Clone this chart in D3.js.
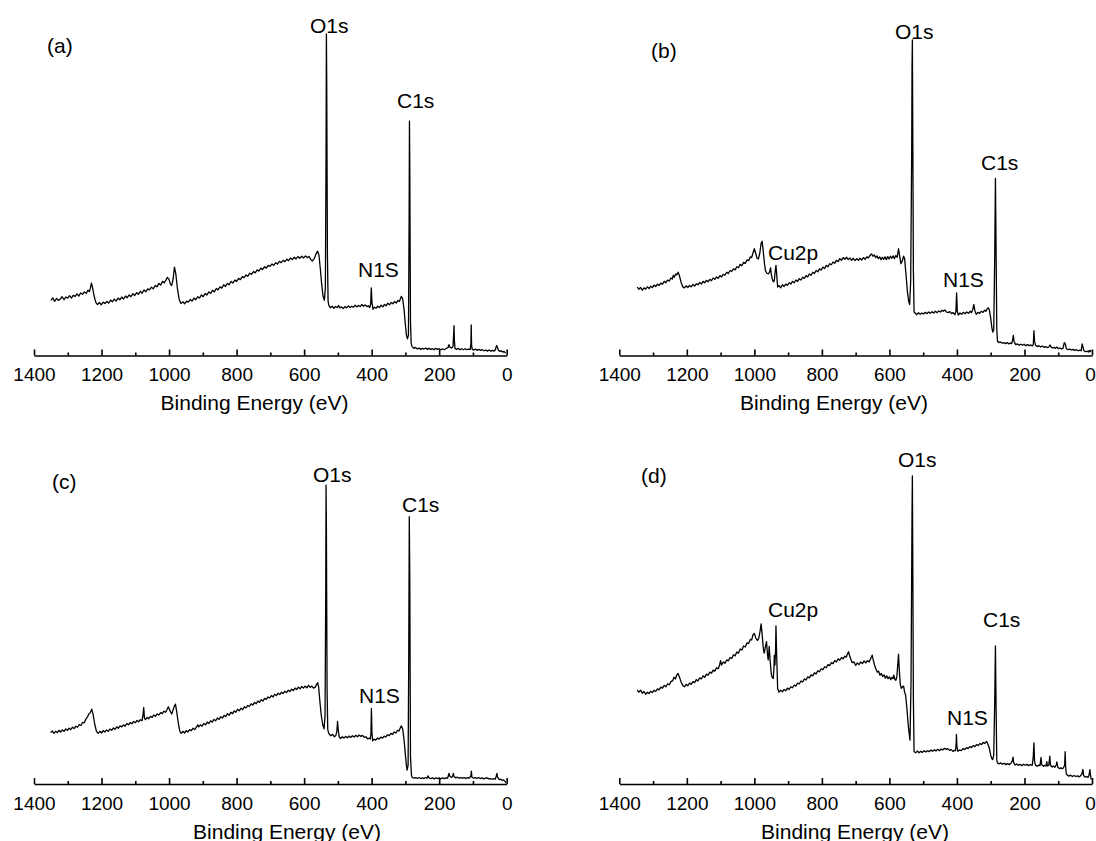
<!DOCTYPE html>
<html>
<head>
<meta charset="utf-8">
<script src="https://cdn.jsdelivr.net/npm/d3@7"></script>
<style>
body { margin: 0; background: #fff; }
svg text { font-family: "Liberation Sans", Arial, sans-serif; fill: #000; }
</style>
</head>
<body>
<script>
// XPS survey spectra, [binding energy (eV), intensity (a.u.)]
var spectrumA = [[1350,16.2],[1344,16.9],[1339,15.9],[1333,16.8],[1328,16.2],[1322,16.6],[1317,17.3],[1311,16.4],[1306,17.2],[1300,16.9],[1295,17.6],[1289,16.9],[1284,17.7],[1278,17.4],[1273,18.1],[1267,17.5],[1262,18.4],[1256,18.0],[1251,18.7],[1245,18.3],[1240,19.2],[1236,18.8],[1233,19.8],[1230,21.3],[1227,20.2],[1222,17.5],[1217,15.6],[1212,15.0],
	[1206,15.6],[1201,14.9],[1195,15.7],[1190,15.3],[1184,15.9],[1179,15.4],[1173,16.3],[1168,15.8],[1162,16.6],[1157,16.0],[1151,16.9],[1146,16.4],[1140,17.2],[1135,16.6],[1129,17.5],[1124,17.0],[1118,17.8],[1113,17.3],[1107,18.2],[1102,17.6],[1096,18.5],[1091,18.0],[1085,18.9],[1080,18.3],[1074,19.3],[1069,18.7],[1063,19.6],[1058,19.3],[1052,20.1],[1047,19.6],[1041,20.6],[1036,20.2],[1030,21.2],[1025,20.7],[1019,21.8],[1014,21.4],[1008,22.4],[1005,23.0],[1000,22.4],[996,21.0],[992,20.6],[988,22.5],[984,26.0],[980,24.0],[975,19.5],[970,16.5],[965,15.3],
	[959,15.8],[954,15.2],[948,16.0],[943,15.7],[937,16.5],[932,16.0],[926,16.9],[921,16.4],[915,17.3],[910,16.9],[904,17.8],[899,17.3],[893,18.2],[888,17.8],[882,18.7],[877,18.3],[871,19.2],[866,18.7],[860,19.7],[855,19.3],[849,20.2],[844,19.8],[838,20.8],[833,20.3],[827,21.2],[822,20.8],[816,21.8],[811,21.3],[805,22.2],[800,21.8],[794,22.7],[789,22.3],[783,23.2],[778,22.9],[772,23.7],[767,23.3],[761,24.2],[756,23.9],[750,24.7],[745,24.3],[739,25.2],[734,24.8],[728,25.7],[723,25.3],[717,26.1],[712,25.7],[706,26.5],[701,26.2],[695,26.9],[690,26.5],[684,27.3],[679,26.9],[673,27.7],[668,27.3],[662,28.0],[657,27.6],[651,28.3],[646,27.9],[640,28.7],[635,28.2],[629,28.9],[624,28.4],[618,29.1],[613,28.6],[607,29.2],[602,28.7],[596,29.3],[591,28.8],[585,29.1],[580,28.2],[576,27.8],[570,28.5],[565,29.8],[560,30.7],[556,29.5],[552,25.5],[548,21.0],[544,17.5],[540,16.2],[537,20.0],[535,60.0],[534,94.6],[533,80.0],[531,30.0],[529,16.0],
	[527,14.8],[522,14.0],[517,14.5],[512,13.9],[507,14.4],[502,14.1],[498,14.7],[494,14.0],[489,14.3],[484,13.8],[479,14.4],[474,14.0],[469,14.6],[464,14.1],[459,14.5],[454,14.2],[449,14.8],[444,14.3],[439,14.7],[434,14.4],[429,15.0],[424,14.5],[419,14.9],[414,14.4],[409,14.6],[406,14.1],[403,15.0],[401,19.9],[399,15.5],[396,13.6],[392,14.2],[387,13.9],[382,14.5],[377,14.1],[372,14.8],[367,14.3],[362,15.0],[357,14.6],[352,15.4],[347,14.9],[342,15.6],[337,15.2],[332,15.9],[327,15.4],[322,16.2],[318,15.9],[315,16.6],[312,17.4],[308,16.6],[304,13.5],[300,9.0],[297,6.0],[294,4.9],[291,6.0],[289,40.0],[288,68.9],[287,55.0],[285,10.0],[283,3.5],
	[280,2.6],[275,2.1],[270,2.4],[265,1.9],[260,2.2],[255,1.8],[250,2.1],[245,1.9],[240,2.2],[235,1.8],[230,2.1],[225,1.8],[220,2.0],[215,1.7],[210,2.1],[205,1.8],[200,2.0],[195,1.7],[190,2.0],[185,1.7],[180,2.0],[174,2.3],[171,3.2],[168,2.4],[163,2.2],[159,2.6],[157,6.5],[156,8.8],[155,4.5],[153,2.0],[148,1.8],[143,2.1],[138,1.7],[133,2.0],[128,1.7],[123,2.0],[118,1.7],[113,1.9],[108,1.8],[106,3.5],[105,9.0],[104,3.0],[102,1.8],[97,1.6],[92,1.9],[87,1.5],[82,1.8],[77,1.5],[72,1.7],[67,1.4],[62,1.6],[57,1.3],[52,1.6],[47,1.3],[42,1.5],[37,1.3],[34,1.6],[30,2.9],[28,2.6],[25,1.6],[20,1.2],[16,1.4],[12,1.0],[8,1.2],[3,0.7]];

var spectrumB = [[1347,20.1],[1342,19.5],[1337,20.0],[1332,19.2],[1327,19.9],[1322,19.5],[1317,20.2],[1312,19.7],[1307,20.4],[1302,20.0],[1297,20.7],[1292,20.3],[1287,21.0],[1282,20.6],[1277,21.3],[1272,21.0],[1267,21.8],[1262,21.4],[1257,22.2],[1252,21.9],[1247,22.8],[1243,22.5],[1240,23.6],[1237,23.0],[1233,24.0],[1230,23.7],[1226,24.5],[1222,23.5],[1217,21.5],[1212,20.2],[1207,19.9],
	[1202,20.5],[1197,20.0],[1192,20.6],[1187,20.2],[1182,20.9],[1177,20.4],[1172,21.1],[1167,20.8],[1162,21.5],[1157,21.0],[1152,21.8],[1147,21.4],[1142,22.1],[1137,21.7],[1132,22.4],[1127,22.0],[1122,22.8],[1117,22.4],[1112,23.1],[1107,22.7],[1102,23.5],[1097,23.1],[1092,23.9],[1087,23.6],[1082,24.5],[1077,24.1],[1072,25.0],[1067,24.7],[1062,25.5],[1057,25.2],[1052,26.1],[1047,25.8],[1042,26.8],[1037,26.4],[1032,27.4],[1027,27.1],[1022,28.1],[1017,27.9],[1012,29.0],[1008,28.8],[1005,29.9],[1000,31.4],[996,30.0],[992,28.6],[988,28.4],[984,30.0],[980,33.0],[977,33.6],[974,31.0],[970,27.0],[967,24.9],[963,24.2],[959,24.0],[955,24.5],[952,25.8],[950,24.0],[947,22.5],[944,21.7],[941,22.0],[938,25.0],[936,26.5],[934,24.0],[931,20.1],
	[927,20.6],[922,19.9],[917,20.8],[912,20.3],[907,21.0],[902,20.6],[897,21.4],[892,21.0],[887,21.8],[882,21.4],[877,22.2],[872,21.8],[867,22.6],[862,22.2],[857,23.0],[852,22.7],[847,23.5],[842,23.1],[837,24.0],[832,23.6],[827,24.5],[822,24.1],[817,25.0],[812,24.6],[807,25.5],[802,25.1],[797,26.0],[792,25.6],[787,26.5],[782,26.1],[777,27.0],[772,26.7],[767,27.5],[762,27.1],[757,28.0],[752,27.6],[747,28.5],[742,28.0],[737,28.8],[732,28.3],[727,28.9],[722,28.2],[717,28.7],[712,28.0],[707,28.6],[702,27.9],[697,28.5],[692,28.0],[687,28.6],[682,28.1],[677,28.8],[672,28.3],[667,29.0],[662,28.7],[657,29.5],[653,29.9],[649,29.2],[645,29.6],[641,28.8],[637,29.3],[633,28.5],[629,29.0],[625,28.2],[621,28.9],[617,28.3],[613,29.0],[609,28.2],[605,29.1],[601,28.4],[597,29.2],[593,28.6],[589,29.3],[585,28.5],[581,29.4],[577,28.9],[573,31.4],[570,29.5],[566,27.0],[562,27.8],[558,29.2],[555,28.5],[551,24.0],[547,19.0],[543,16.0],[540,15.0],[537,22.0],[534,60.0],[533,85.0],[532,92.8],[531,70.0],[529,25.0],[527,12.8],
	[524,12.5],[519,12.0],[514,12.6],[509,12.1],[504,12.5],[499,12.2],[494,12.7],[489,12.3],[484,12.8],[479,12.4],[474,12.9],[469,12.5],[464,13.0],[459,12.6],[454,13.1],[449,12.8],[444,13.3],[440,13.0],[436,13.4],[431,12.8],[426,12.6],[421,12.9],[416,12.3],[411,12.6],[406,12.0],[403,13.0],[401,18.4],[399,13.0],[396,11.9],[391,12.5],[386,12.1],[381,12.7],[376,12.3],[371,12.8],[366,12.4],[361,13.0],[357,12.6],[353,13.6],[350,15.0],[347,13.2],[343,12.1],[338,12.7],[333,12.4],[328,13.0],[323,12.7],[318,13.3],[314,13.0],[310,13.8],[307,14.0],[304,13.4],[300,11.0],[297,8.5],[294,6.9],[291,7.5],[288,30.0],[286,52.1],[284,30.0],[282,8.0],
	[280,4.2],[276,3.8],[271,4.0],[266,3.6],[261,3.8],[256,3.5],[251,3.8],[246,3.4],[242,3.7],[238,3.5],[235,4.6],[233,5.9],[231,4.2],[226,3.2],[221,3.4],[216,3.0],[211,3.3],[206,3.0],[201,3.3],[196,2.9],[191,3.2],[186,2.9],[181,3.1],[177,2.8],[174,3.2],[173,5.0],[172,7.3],[170,4.0],[167,3.0],[162,2.6],[157,2.9],[152,2.5],[147,2.8],[142,2.4],[137,2.6],[132,2.3],[128,2.5],[124,3.1],[122,2.6],[117,2.2],[112,2.4],[108,2.1],[104,2.5],[100,2.0],[95,2.2],[90,1.9],[86,2.1],[82,3.8],[79,3.4],[76,2.0],[71,1.7],[66,1.9],[61,1.6],[56,1.8],[51,1.5],[46,1.7],[41,1.4],[36,1.6],[32,1.4],[29,3.4],[27,2.6],[24,1.4],[19,1.1],[15,1.3],[11,1.0],[8,1.5],[6,1.1],[2,1.6]];

var spectrumC = [[1351,15.1],[1346,15.6],[1341,14.9],[1336,15.5],[1331,15.1],[1326,15.8],[1321,15.3],[1316,15.9],[1311,15.5],[1306,16.2],[1301,15.8],[1296,16.4],[1291,16.0],[1286,16.7],[1281,16.3],[1276,17.0],[1271,16.7],[1266,17.5],[1261,17.2],[1256,18.1],[1251,18.0],[1246,19.2],[1242,19.6],[1238,20.5],[1233,21.0],[1229,22.0],[1225,20.5],[1220,17.5],[1215,15.5],[1210,14.9],
	[1205,15.5],[1200,15.0],[1195,15.7],[1190,15.3],[1185,15.9],[1180,15.5],[1175,16.2],[1170,15.8],[1165,16.5],[1160,16.1],[1155,16.8],[1150,16.4],[1145,17.1],[1140,16.8],[1135,17.4],[1130,17.0],[1125,17.8],[1120,17.4],[1115,18.1],[1110,17.7],[1105,18.4],[1100,18.0],[1095,18.7],[1090,18.3],[1085,18.9],[1080,18.6],[1077,20.5],[1075,22.5],[1073,19.5],[1070,18.9],[1065,19.6],[1060,19.2],[1055,19.9],[1050,19.6],[1045,20.3],[1040,19.9],[1035,20.6],[1030,20.3],[1025,21.0],[1020,20.7],[1015,21.4],[1010,21.1],[1006,21.9],[1002,22.7],[997,21.5],[992,20.6],[988,21.8],[984,23.0],[981,23.5],[977,21.0],[972,17.5],[968,15.5],[964,14.9],
	[959,15.5],[954,15.0],[949,15.7],[944,15.3],[939,16.0],[934,15.7],[929,16.4],[924,16.0],[919,16.7],[915,17.4],[912,16.8],[907,17.4],[902,17.0],[897,17.8],[892,17.4],[887,18.2],[882,17.8],[877,18.6],[872,18.2],[867,19.0],[862,18.6],[857,19.4],[852,19.0],[847,19.8],[842,19.4],[837,20.2],[832,19.8],[827,20.7],[822,20.2],[817,21.1],[812,20.7],[807,21.5],[802,21.1],[797,22.0],[792,21.5],[787,22.3],[782,21.9],[777,22.7],[772,22.4],[767,23.1],[762,22.8],[757,23.6],[752,23.2],[747,24.0],[742,23.6],[737,24.4],[732,24.0],[727,24.8],[722,24.4],[717,25.2],[712,24.9],[707,25.6],[702,25.3],[697,26.0],[692,25.6],[687,26.4],[682,26.0],[677,26.7],[672,26.3],[667,27.0],[662,26.6],[657,27.3],[652,26.9],[647,27.6],[642,27.2],[637,27.9],[632,27.5],[627,28.2],[622,27.8],[617,28.5],[612,28.0],[607,28.7],[602,28.2],[597,28.8],[592,28.3],[587,29.0],[582,28.4],[577,28.8],[572,28.2],[567,28.5],[563,29.3],[560,29.8],[557,28.5],[553,24.0],[549,20.0],[545,17.5],[541,16.2],[538,20.0],[536,55.0],[535,87.9],[534,75.0],[532,28.0],[530,16.0],
	[527,14.9],[522,14.2],[516,14.6],[510,13.9],[506,14.3],[503,15.5],[501,18.4],[499,16.0],[496,13.8],[492,13.4],[487,13.9],[482,13.5],[477,14.0],[472,13.6],[467,14.1],[462,13.7],[457,14.2],[452,13.8],[447,14.3],[442,13.9],[437,14.4],[432,14.0],[427,14.3],[422,13.7],[417,13.9],[412,13.3],[407,13.5],[404,13.2],[402,15.0],[400.7,22.2],[399,15.0],[397,12.7],[393,13.2],[388,12.9],[383,13.5],[378,13.2],[373,13.8],[368,13.5],[363,14.1],[358,13.8],[353,14.5],[348,14.2],[343,14.9],[338,14.6],[333,15.3],[328,15.0],[323,15.8],[319,15.6],[316,16.3],[312,17.1],[308,16.2],[304,13.0],[300,8.5],[297,5.5],[295,4.1],[292,5.5],[290,40.0],[288.5,78.6],[287,60.0],[285,8.0],[282,2.5],
	[280,2.0],[275,1.7],[270,1.9],[265,1.6],[260,1.9],[255,1.6],[250,1.8],[245,1.6],[240,1.9],[236,1.7],[233,2.4],[230,1.8],[225,1.6],[220,1.8],[215,1.5],[210,1.8],[205,1.6],[200,1.8],[195,1.5],[190,1.8],[185,1.6],[180,1.8],[175,1.7],[171,3.1],[168,2.2],[163,1.9],[160,2.4],[158,3.1],[156,2.2],[151,1.8],[146,2.0],[141,1.7],[136,1.9],[131,1.7],[126,1.9],[121,1.6],[116,1.9],[111,1.7],[106,2.4],[104.6,3.8],[103,2.0],[98,1.7],[93,1.9],[88,1.6],[83,1.9],[78,1.6],[73,1.8],[68,1.5],[63,1.7],[58,1.8],[53,1.5],[48,1.6],[43,1.4],[38,1.6],[34,1.4],[31,2.3],[29,3.1],[27,2.0],[22,1.3],[18,1.4],[14,1.1],[10,1.2],[5,0.8],[2,0.3]];

var spectrumD = [[1347,27.6],[1342,27.0],[1337,27.6],[1332,26.7],[1327,27.2],[1322,26.4],[1317,27.0],[1312,26.6],[1307,27.3],[1302,26.9],[1297,27.6],[1292,27.2],[1287,28.0],[1282,27.7],[1277,28.5],[1272,28.2],[1267,29.0],[1262,28.6],[1257,29.5],[1252,29.2],[1247,30.1],[1242,30.4],[1238,31.4],[1234,30.9],[1230,32.0],[1226,32.5],[1222,31.5],[1217,30.0],[1212,29.0],[1207,28.6],
	[1202,29.3],[1197,28.9],[1192,29.7],[1187,29.3],[1182,30.1],[1177,29.8],[1172,30.7],[1167,30.3],[1162,31.2],[1157,30.9],[1152,31.8],[1147,31.4],[1142,32.3],[1137,32.0],[1132,32.9],[1127,32.6],[1122,33.5],[1117,33.2],[1112,34.2],[1107,33.9],[1103,35.0],[1100,36.3],[1097,35.0],[1092,35.9],[1087,35.5],[1082,36.5],[1077,36.2],[1072,37.2],[1067,36.9],[1062,38.0],[1057,37.7],[1052,38.8],[1047,38.5],[1042,39.7],[1037,39.4],[1032,40.6],[1027,40.3],[1022,41.5],[1017,41.3],[1012,42.5],[1008,42.4],[1004,43.9],[1000,44.3],[996,43.0],[991,42.2],[987,42.8],[983,45.0],[980,47.1],[977,44.0],[973,39.5],[971,38.5],[968,40.0],[964,41.9],[961,38.0],[959,36.5],[957,39.0],[956,40.5],[953,36.0],[950,32.5],[948,31.5],[944,31.0],[942,34.0],[941,37.8],[939,35.0],[937,40.0],[936,46.5],[934,38.0],[931,28.1],
	[927,27.0],[922,27.6],[917,27.1],[912,27.8],[907,27.4],[902,28.2],[897,27.8],[892,28.6],[887,28.3],[882,29.1],[877,28.8],[872,29.7],[867,29.4],[862,30.3],[857,30.0],[852,30.9],[847,30.6],[842,31.5],[837,31.2],[832,32.1],[827,31.8],[822,32.7],[817,32.4],[812,33.3],[807,33.0],[802,33.9],[797,33.6],[792,34.5],[787,34.2],[782,35.1],[777,34.8],[772,35.7],[767,35.4],[762,36.3],[757,35.9],[752,36.8],[747,36.4],[742,37.2],[737,36.8],[732,37.6],[728,37.3],[724,38.3],[721,38.9],[718,37.8],[714,36.6],[710,35.7],[705,35.9],[700,34.9],[695,35.6],[690,35.1],[685,35.9],[680,35.4],[675,36.2],[670,35.6],[665,36.3],[660,35.9],[655,37.0],[651,37.9],[648,36.5],[644,35.0],[640,33.8],[636,32.9],[632,33.2],[628,32.0],[624,32.5],[620,31.6],[616,32.1],[612,31.1],[608,31.8],[604,31.0],[600,31.5],[596,30.7],[592,31.4],[589,31.0],[587,32.0],[584,30.8],[581,30.5],[578,31.5],[575,35.5],[573,38.2],[571,34.0],[568,29.5],[565,28.1],[561,28.6],[558,28.8],[555,27.0],[552,26.1],[548,22.0],[544,17.0],[541,14.5],[539,12.9],[536,30.0],[533,80.0],[532,90.6],[531,70.0],[529,25.0],
	[527,9.5],[522,9.2],[517,9.7],[512,9.2],[507,9.6],[502,9.3],[497,9.8],[492,9.4],[487,9.8],[482,9.5],[477,10.0],[472,9.6],[467,10.1],[462,9.7],[457,10.2],[452,9.8],[447,10.3],[442,10.0],[437,10.5],[432,10.2],[427,10.4],[422,9.9],[417,10.1],[412,9.6],[407,9.9],[404,9.8],[402,12.5],[401.6,14.6],[400,11.0],[397,9.6],[392,10.0],[387,9.8],[382,10.4],[377,10.1],[372,10.7],[367,10.4],[362,11.0],[357,10.7],[352,11.3],[347,11.0],[342,11.6],[337,11.3],[332,11.9],[327,11.6],[322,12.2],[318,11.9],[315,12.3],[312,12.5],[308,11.6],[304,10.5],[300,8.5],[297,7.5],[294,7.2],[291,8.5],[288,25.0],[286,40.6],[284,22.0],[282,7.0],
	[280,6.2],[275,5.9],[270,6.2],[265,5.8],[260,6.1],[255,5.7],[250,6.0],[245,5.7],[240,6.1],[236,6.8],[234,7.9],[232,6.3],[228,5.6],[223,5.9],[218,5.5],[213,5.8],[208,5.4],[203,5.8],[198,5.5],[193,5.8],[188,5.4],[183,5.7],[177,5.5],[174,8.0],[172,12.1],[170,6.5],[167,5.5],[162,5.2],[157,5.6],[154,5.4],[151,7.8],[149,5.7],[144,5.2],[139,5.5],[136,5.3],[134,6.6],[132,5.3],[128,5.5],[125,8.2],[123,5.5],[118,5.0],[114,5.3],[110,4.9],[106,5.6],[104,6.5],[101,4.9],[96,4.5],[92,4.8],[88,4.5],[85,4.7],[81,5.5],[79.5,9.5],[78,5.0],[76,3.0],[73,2.6],[68,2.3],[63,2.6],[58,2.2],[53,2.5],[48,2.2],[43,2.4],[38,2.1],[34,2.4],[30,3.0],[27,4.3],[25,2.5],[20,2.0],[16,2.2],[12,1.9],[9,2.6],[6,4.2],[4,2.2],[2,1.3]];

var majorTicks = [1400, 1200, 1000, 800, 600, 400, 200, 0];
var minorTicks = [1300, 1100, 900, 700, 500, 300, 100];
var panelNames = ["(a)", "(b)", "(c)", "(d)"];
var axisTitle = "Binding Energy (eV)";

// Set up size
var width = 1096;
var height = 841;

var svg = d3.select("body").append("svg")
	.attr("width", width)
	.attr("height", height);

// layout of each panel (pixels), labels are left edge + baseline
var panels = [
	{name: panelNames[0], data: spectrumA, x0: 34, x1: 506.7, axisY: 355.5, nameX: 47, nameY: 53, titleX: 254.5,
		labels: [{t: "O1s", x: 310, y: 33}, {t: "C1s", x: 397, y: 108}, {t: "N1S", x: 358, y: 277}]},
	{name: panelNames[1], data: spectrumB, x0: 619.3, x1: 1092, axisY: 355.5, nameX: 651, nameY: 57.5, titleX: 834,
		labels: [{t: "O1s", x: 895, y: 39}, {t: "C1s", x: 981, y: 170}, {t: "Cu2p", x: 768, y: 259.5}, {t: "N1S", x: 943, y: 287}]},
	{name: panelNames[2], data: spectrumC, x0: 34, x1: 506.7, axisY: 784, nameX: 52, nameY: 488.5, titleX: 287,
		labels: [{t: "O1s", x: 313, y: 482}, {t: "C1s", x: 402, y: 512}, {t: "N1S", x: 359, y: 703}]},
	{name: panelNames[3], data: spectrumD, x0: 619.3, x1: 1092, axisY: 784, nameX: 641, nameY: 482.5, titleX: 855,
		labels: [{t: "O1s", x: 898, y: 467}, {t: "C1s", x: 983, y: 627}, {t: "Cu2p", x: 768, y: 616.5}, {t: "N1S", x: 947, y: 725}]}
];

panels.forEach(draw_panel);

function draw_panel(p) {
	var g = svg.append("g");
	var x = d3.scaleLinear().domain([1400, 0]).range([p.x0, p.x1]);
	var y = d3.scaleLinear().domain([0, 100]).range([p.axisY, p.axisY - 340]);

	// spectrum
	var line = d3.line()
		.x(function (d) { return x(d[0]); })
		.y(function (d) { return y(d[1]); });
	g.append("path")
		.datum(p.data)
		.attr("d", line)
		.attr("fill", "none")
		.attr("stroke", "#000")
		.attr("stroke-width", 1.3)
		.attr("stroke-linejoin", "round");

	// minor ticks
	var minor = g.append("g")
		.attr("transform", "translate(0," + p.axisY + ")")
		.call(d3.axisBottom(x).tickValues(minorTicks).tickSize(-3).tickFormat(""));
	minor.select(".domain").remove();
	minor.selectAll("line").attr("stroke-width", 1.6);

	// major ticks + axis line
	var axis = g.append("g")
		.attr("transform", "translate(0," + p.axisY + ")")
		.call(d3.axisBottom(x).tickValues(majorTicks).tickSize(-6).tickSizeOuter(0)
			.tickPadding(12.5).tickFormat(d3.format("d")));
	axis.attr("font-size", 19).attr("font-family", null);
	axis.select(".domain").attr("stroke-width", 1.6);
	axis.selectAll("line").attr("stroke-width", 1.6);
	// keep the "0" at the page edge inside the picture
	if (p.x1 > width - 10) {
		axis.selectAll(".tick text").filter(function (d) { return d === 0; }).attr("dx", -2);
	}

	// axis title
	g.append("text")
		.attr("x", p.titleX)
		.attr("y", p.axisY + 54.5)
		.attr("text-anchor", "middle")
		.attr("font-size", 21)
		.text(axisTitle);

	// panel name
	g.append("text")
		.attr("x", p.nameX)
		.attr("y", p.nameY)
		.attr("font-size", 21)
		.text(p.name);

	// peak labels
	g.selectAll(".peak")
		.data(p.labels)
		.enter().append("text")
		.attr("class", "peak")
		.attr("x", function (d) { return d.x; })
		.attr("y", function (d) { return d.y; })
		.attr("font-size", 21)
		.text(function (d) { return d.t; });
}
</script>
</body>
</html>
